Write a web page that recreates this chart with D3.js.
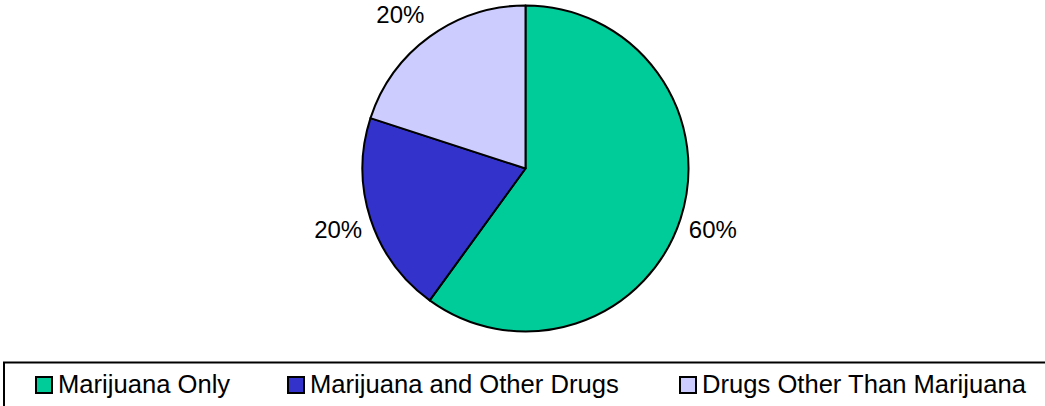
<!DOCTYPE html>
<html>
<head>
<meta charset="utf-8">
<script src="https://cdn.jsdelivr.net/npm/d3@7"></script>
<style>
  body { margin: 0; background: #fff; }
  svg { display: block; font-family: Arial, "Liberation Sans", sans-serif; }
</style>
</head>
<body>
<div id="viz-container"></div>
<script>
let categories = ["Marijuana Only", "Marijuana and Other Drugs", "Drugs Other Than Marijuana"];
let values = [60, 20, 20];
let colors = ["#00cc99", "#3333cc", "#ccccff"];

let width = 1045, height = 406;

let viz = d3.select("#viz-container")
  .append("svg")
    .attr("width", width)
    .attr("height", height)
;

let data = categories.map((c, i) => ({name: c, value: values[i], color: colors[i]}));

let cx = 525.5, cy = 168.5;
let radius = 163;   // pie outer radius
let labelR = 197;   // where the percent labels sit

let pie = d3.pie().value(d => d.value).sort(null);
let arcGen = d3.arc().innerRadius(0).outerRadius(radius);
let labelArc = d3.arc().innerRadius(labelR).outerRadius(labelR);

let group = viz.append("g")
    .attr("transform", `translate(${cx}, ${cy})`);

let arcs = pie(data);

group.selectAll("path").data(arcs).enter()
  .append("path")
    .attr("d", arcGen)
    .attr("fill", d => d.data.color)
    .attr("stroke", "#000")
    .attr("stroke-width", 2)
    .attr("stroke-linejoin", "round")
;

// keep labels inside the top edge: push down and slide toward the pie
function labelPos(d){
  let [x, y] = labelArc.centroid(d);
  let top = cy + y - 9;
  if (top < 6) {
    let push = 6 - top;
    y += push;
    x += x < 0 ? -push * 1.6 : push * 1.6;
  }
  return [x, y];
}

let total = d3.sum(values);
group.selectAll("text").data(arcs).enter()
  .append("text")
    .attr("transform", d => `translate(${labelPos(d)})`)
    .attr("text-anchor", "middle")
    .attr("dy", "0.35em")
    .attr("font-size", 24)
    .attr("fill", "#000")
    .text(d => Math.round(d.data.value / total * 100) + "%")
;

// legend box runs off the right and bottom edges
viz.append("rect")
    .attr("x", 4)
    .attr("y", 362.5)
    .attr("width", 1100)
    .attr("height", 100)
    .attr("fill", "none")
    .attr("stroke", "#000")
    .attr("stroke-width", 2)
;

let legendX = d3.scaleOrdinal().domain(categories).range([35, 287, 679]);

let items = viz.selectAll("g.legend").data(data).enter()
  .append("g")
    .attr("class", "legend")
    .attr("transform", d => `translate(${legendX(d.name)}, 376)`)
;

items.append("rect")
    .attr("x", 1)
    .attr("y", 1)
    .attr("width", 16)
    .attr("height", 16)
    .attr("fill", d => d.color)
    .attr("stroke", "#000")
    .attr("stroke-width", 2)
;

items.append("text")
    .attr("x", 23)
    .attr("y", 17)
    .attr("font-size", 25.6)
    .attr("fill", "#000")
    .text(d => d.name)
;
</script>
</body>
</html>
